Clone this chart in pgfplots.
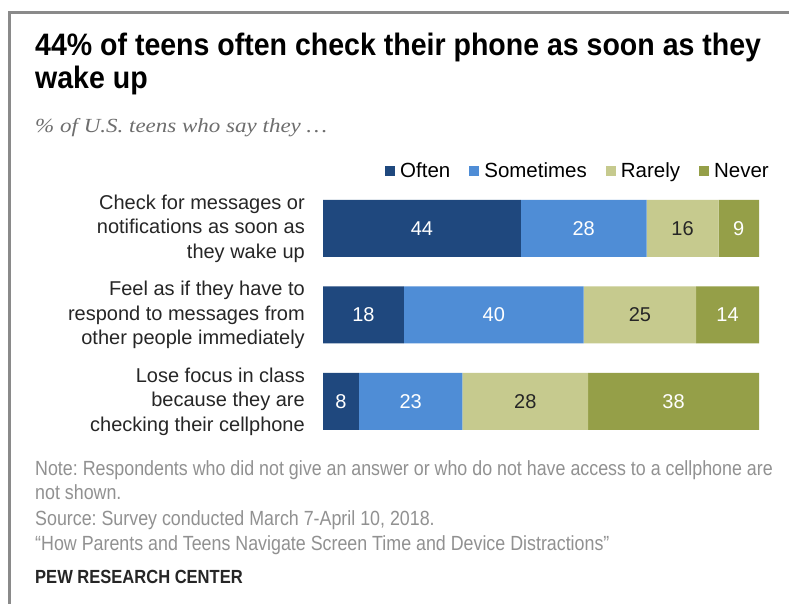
\documentclass[border=0pt]{standalone}
\usepackage{pgfplots}
\pgfplotsset{compat=1.18}
\usepackage{fontspec}
\setmainfont{Liberation Sans}
\newfontfamily\condfont[FakeStretch=0.87]{Liberation Sans}
\newfontfamily\titlefont[FakeStretch=0.92]{Liberation Sans}
\newfontfamily\subfont[FakeStretch=1.15]{Liberation Serif}
\definecolor{often}{HTML}{1F487E}
\definecolor{sometimes}{HTML}{4F8DD6}
\definecolor{rarely}{HTML}{C6CA8E}
\definecolor{never}{HTML}{959F48}
\definecolor{framegray}{HTML}{8A8A8A}
\definecolor{notegray}{HTML}{919191}
\definecolor{subgray}{HTML}{6E6E6E}
\frenchspacing
\begin{document}
\begin{tikzpicture}
\path[use as bounding box] (0pt,0pt) rectangle (789pt,604pt);
\fill[white] (0pt,0pt) rectangle (789pt,604pt);
\draw[framegray, line width=3pt] (9.5pt,0pt) -- (9.5pt,591.5pt) -- (789pt,591.5pt);
\node[anchor=base west, inner sep=0pt, font=\titlefont\bfseries\fontsize{31}{33}\selectfont] at (35pt,548pt) {44\% of teens often check their phone as soon as they};
\node[anchor=base west, inner sep=0pt, font=\titlefont\bfseries\fontsize{31}{33}\selectfont] at (35pt,515pt) {wake up};
\node[anchor=base west, inner sep=0pt, text=subgray, font=\subfont\itshape\fontsize{20}{22}\selectfont] at (35pt,471pt) {\% of U.S. teens who say they \dots};
\begin{axis}[
  at={(323pt,159.25pt)}, anchor=south west,
  scale only axis, width=436pt, height=259.5pt,
  xbar stacked, bar width=57pt,
  xmin=0, xmax=97, ymin=-0.5, ymax=2.5,
  axis line style={draw=none}, tick style={draw=none},
  major tick length=0pt,
  xtick=\empty, ytick={0,1,2},
  yticklabels={{Lose focus in class\\because they are\\checking their cellphone},
               {Feel as if they have to\\respond to messages from\\other people immediately},
               {Check for messages or\\notifications as soon as\\they wake up}},
  yticklabel style={align=right, inner sep=0pt, xshift=-18pt, text=black!85,
    font=\fontsize{20}{24.5}\selectfont},
  point meta=explicit symbolic,
  nodes near coords,
  nodes near coords style={font=\fontsize{20}{22}\selectfont, anchor=center},
  legend image code/.code={\fill[#1] (0pt,-5pt) rectangle (10pt,5pt);},
  legend style={at={(1,1)}, anchor=east, xshift=10pt, yshift=14.25pt,
    draw=none, fill=none, inner sep=0pt,
    font=\fontsize{20.5}{22}\selectfont,
    nodes={inner xsep=0pt, inner ysep=2pt},
    /tikz/every odd column/.style={column sep=5pt},
    /tikz/every even column/.style={column sep=19pt}},
  legend columns=-1,
]
\addplot[fill=often, draw=none, nodes near coords style={text=white}] coordinates {(8,0) [8] (18,1) [18] (44,2) [44]};
\addplot[fill=sometimes, draw=none, nodes near coords style={text=white}] coordinates {(23,0) [23] (40,1) [40] (28,2) [28]};
\addplot[fill=rarely, draw=none, nodes near coords style={text=black!85}] coordinates {(28,0) [28] (25,1) [25] (16,2) [16]};
\addplot[fill=never, draw=none, nodes near coords style={text=white}] coordinates {(38,0) [38] (14,1) [14] (9,2) [9]};
\legend{Often,Sometimes,Rarely,Never}
\end{axis}
\begin{scope}[every node/.style={anchor=base west, inner sep=0pt, text=notegray, font=\condfont\fontsize{20.5}{24}\selectfont}]
\node at (35pt,128pt) {Note: Respondents who did not give an answer or who do not have access to a cellphone are};
\node at (35pt,104pt) {not shown.};
\node at (35pt,78pt) {Source: Survey conducted March 7-April 10, 2018.};
\node at (35pt,53pt) {“How Parents and Teens Navigate Screen Time and Device Distractions”};
\end{scope}
\node[anchor=base west, inner sep=0pt, text=black!85, font=\condfont\bfseries\fontsize{19}{22}\selectfont] at (35pt,20pt) {PEW RESEARCH CENTER};
\end{tikzpicture}
\end{document}
